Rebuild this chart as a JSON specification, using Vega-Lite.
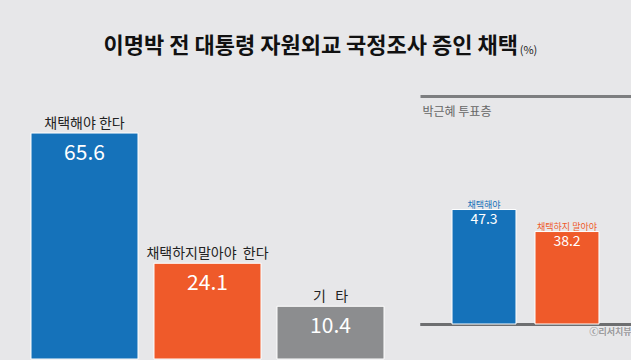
{
  "$schema": "https://vega.github.io/schema/vega-lite/v6.json",
  "background": "#e7e7e9",
  "padding": {"top": 35, "left": 30, "right": 0, "bottom": 0},
  "bounds": "flush",
  "spacing": 36,
  "config": {
    "view": {"stroke": null},
    "font": "Noto Sans CJK KR",
    "title": {"font": "Noto Sans CJK KR"},
    "axis": {"labelFont": "Noto Sans CJK KR", "titleFont": "Noto Sans CJK KR"}
  },
  "datasets": {
    "all": [
      {"cat": "채택해야 한다", "value": 65.6},
      {"cat": "채택하지말아야\u00a0\u00a0한다", "value": 24.1},
      {"cat": "기\u00a0\u00a0\u00a0타", "value": 10.4}
    ],
    "park": [
      {"cat": "채택해야", "value": 47.3},
      {"cat": "채택하지 말아야", "value": 38.2}
    ]
  },
  "hconcat": [
    {
      "width": 353,
      "height": 263,
      "title": {
        "text": "이명박 전 대통령 자원외교 국정조사 증인 채택",
        "anchor": "start",
        "dx": 73,
        "fontSize": 22,
        "fontWeight": "bold",
        "color": "#111111",
        "baseline": "alphabetic",
        "offset": 21
      },
      "data": {"name": "all"},
      "encoding": {
        "x": {
          "field": "cat",
          "type": "nominal",
          "sort": null,
          "axis": null,
          "scale": {"paddingInner": 0.13, "paddingOuter": 0}
        }
      },
      "layer": [
        {
          "mark": {"type": "bar", "stroke": "white", "strokeWidth": 1},
          "encoding": {
            "y": {
              "field": "value",
              "type": "quantitative",
              "axis": null,
              "scale": {"domain": [-6.4, 77.4], "nice": false, "zero": false}
            },
            "y2": {"datum": -6.4},
            "color": {
              "field": "cat",
              "type": "nominal",
              "sort": null,
              "legend": null,
              "scale": {"range": ["#1572ba", "#ef5a2a", "#8c8d8f"]}
            }
          }
        },
        {
          "mark": {"type": "text", "baseline": "bottom", "dy": -2, "fontSize": 14, "color": "#222222"},
          "encoding": {
            "y": {"field": "value", "type": "quantitative"},
            "text": {"field": "cat"}
          }
        },
        {
          "mark": {"type": "text", "baseline": "top", "dy": 10, "fontSize": 21, "color": "white"},
          "encoding": {
            "y": {"field": "value", "type": "quantitative"},
            "text": {"field": "value", "format": ".1f"}
          }
        }
      ]
    },
    {
      "width": 211,
      "height": 228,
      "title": {
        "text": "(%)",
        "anchor": "middle",
        "dx": 3,
        "fontSize": 11,
        "fontWeight": "normal",
        "color": "#222222",
        "baseline": "alphabetic",
        "offset": 31
      },
      "data": {"name": "park"},
      "encoding": {
        "x": {
          "field": "cat",
          "type": "nominal",
          "sort": null,
          "scale": {"paddingInner": 0.229, "paddingOuter": 0.386},
          "axis": {
            "orient": "bottom",
            "labels": false,
            "ticks": false,
            "domainColor": "#6d6e70",
            "domainWidth": 3,
            "title": "ⓒ리서치뷰",
            "titleAnchor": "end",
            "titleAlign": "right",
            "titleBaseline": "middle",
            "titleY": 7,
            "titleFontSize": 9,
            "titleFontWeight": "normal",
            "titleColor": "#9a9a9c"
          }
        }
      },
      "layer": [
        {
          "mark": {"type": "bar", "stroke": "white", "strokeWidth": 1},
          "encoding": {
            "y": {
              "field": "value",
              "type": "quantitative",
              "axis": null,
              "scale": {"domain": [0, 94.2], "nice": false}
            },
            "color": {
              "field": "cat",
              "type": "nominal",
              "sort": null,
              "legend": null,
              "scale": {"range": ["#1572ba", "#ef5a2a"]}
            }
          }
        },
        {
          "mark": {"type": "text", "baseline": "bottom", "dy": 0, "fontSize": 9},
          "encoding": {
            "x": {
              "field": "cat",
              "type": "nominal",
              "sort": null,
              "axis": {
                "orient": "top",
                "labels": false,
                "ticks": false,
                "domainColor": "#7d7e80",
                "domainWidth": 3,
                "title": "박근혜 투표층",
                "titleAnchor": "start",
                "titleAlign": "left",
                "titleBaseline": "middle",
                "titleY": 15,
                "titleX": 2,
                "titleFontSize": 12,
                "titleFontWeight": "normal",
                "titleColor": "#666666"
              }
            },
            "y": {"field": "value", "type": "quantitative"},
            "text": {"field": "cat"},
            "color": {
              "field": "cat",
              "type": "nominal",
              "sort": null,
              "legend": null,
              "scale": {"range": ["#1572ba", "#ef5a2a"]}
            }
          }
        },
        {
          "mark": {"type": "text", "baseline": "top", "dy": 3, "fontSize": 14, "color": "white"},
          "encoding": {
            "y": {"field": "value", "type": "quantitative"},
            "text": {"field": "value", "format": ".1f"}
          }
        }
      ]
    }
  ]
}
